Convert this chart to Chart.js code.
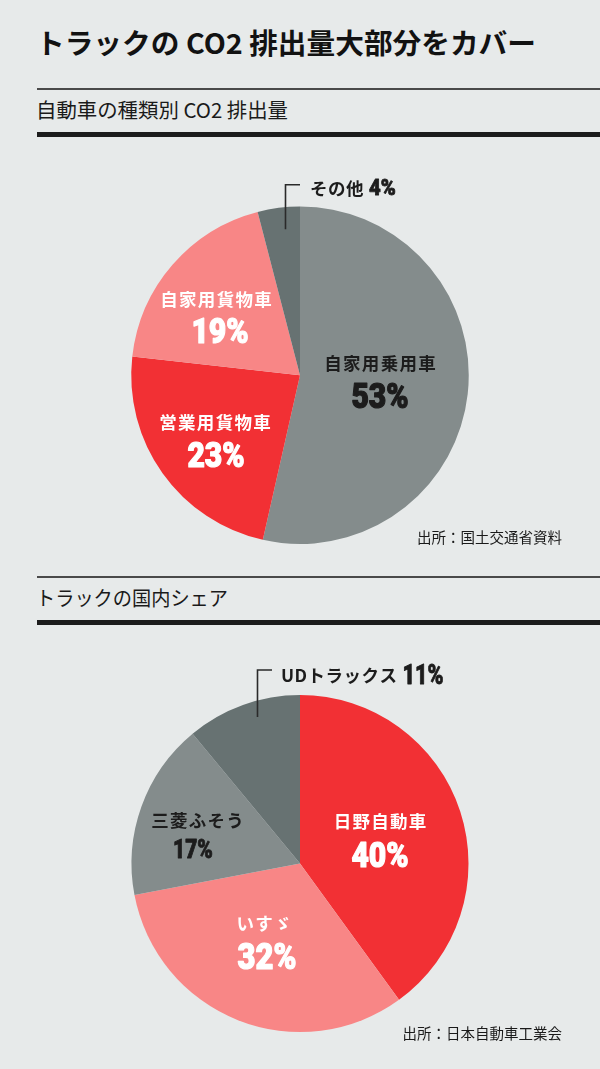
<!DOCTYPE html>
<html><head><meta charset="utf-8">
<script src="https://cdn.jsdelivr.net/npm/chart.js@4"></script>
<style>
html,body{margin:0;padding:0;background:#e7eaea;}
body{width:600px;height:1069px;position:relative;overflow:hidden;font-family:"Noto Sans CJK JP","Noto Sans",sans-serif;color:#1a1a1a;}
.abs{position:absolute;}
.fit{white-space:nowrap;transform-origin:0 0;display:inline-block;}
#title{left:36px;top:28px;font-size:28px;font-weight:700;line-height:28px;color:#121212;}
.sub{left:36px;font-size:20px;font-weight:400;line-height:20px;}
.thin{left:37px;right:0;height:2px;background:#4a4a4a;}
.thick{left:37px;right:0;height:5px;background:#1c1c1c;}
.src{right:38px;font-size:14.5px;line-height:14.5px;white-space:nowrap;color:#1a1a1a;}
.box{position:absolute;left:0;width:600px;height:420px;}
</style></head>
<body>
<div id="title" class="abs fit">トラックの CO2 排出量大部分をカバー</div>
<div class="abs thin" style="top:88px"></div>
<div id="sub1" class="abs sub fit" style="top:100px">自動車の種類別 CO2 排出量</div>
<div class="abs thick" style="top:132px"></div>

<div class="box" style="top:140px"><canvas id="c1"></canvas></div>
<div class="abs src" style="top:530px">出所：国土交通省資料</div>

<div class="abs thin" style="top:576px"></div>
<div id="sub2" class="abs sub fit" style="top:588px">トラックの国内シェア</div>
<div class="abs thick" style="top:620px"></div>

<div class="box" style="top:640px"><canvas id="c2"></canvas></div>
<div class="abs src" style="top:1026px">出所：日本自動車工業会</div>

<script>
// ---- data ----
const co2Categories = ['自家用乗用車','営業用貨物車','自家用貨物車','その他'];
const co2Values = [53, 23, 19, 4];
const co2Colors = ['#848c8c','#f23034','#f88686','#677272'];

const shareCategories = ['日野自動車','いすゞ','三菱ふそう','UDトラックス'];
const shareValues = [40, 32, 17, 11];
const shareColors = ['#f23034','#f88686','#848c8c','#677272'];

// ---- label layout (offsets from pie centre) ----
const DARK = '#1c1c1c', WHITE = '#ffffff';
const co2Layout = [
  {name:[80,-13], pct:[80,20.5], color:DARK, size:35, sx:0.86},
  {name:[-85,46], pct:[-84,79.5], color:WHITE, size:35, sx:0.86},
  {name:[-84,-76.5], pct:[-80,-45], color:WHITE, size:35, sx:0.86},
  {callout:[[-14.5,-146],[-14.5,-190.5],[0,-190.5]], text:[10,-188], color:DARK, size:22, sx:0.92}
];
const shareLayout = [
  {name:[80,-43.5], pct:[80,-8.5], color:WHITE, size:35, sx:0.86},
  {name:[-36,58.5], pct:[-33,93], color:WHITE, size:36, sx:0.86},
  {name:[-102.5,-44.5], pct:[-107,-14.5], color:DARK, size:25, sx:0.84},
  {callout:[[-42.5,-146.5],[-42.5,-193.5],[-28,-193.5]], text:[-19,-189.5], color:DARK, size:27, sx:0.8}
];

function fitText(id, w){
  const el = document.getElementById(id);
  el.style.transform = 'scaleX(' + (w / el.getBoundingClientRect().width) + ')';
}
fitText('title', 500);
fitText('sub1', 252);
fitText('sub2', 192);

function drawPct(ctx, txt, x, y, size, sx, align){
  ctx.save();
  ctx.font = '900 ' + size + 'px Roboto';
  ctx.letterSpacing = '0px';
  ctx.textAlign = align;
  ctx.textBaseline = 'alphabetic';
  ctx.translate(x, y + size * 0.711 / 2);
  ctx.scale(sx, 1);
  ctx.strokeStyle = ctx.fillStyle;
  ctx.lineWidth = size > 30 ? 1.2 : 0.8;
  ctx.lineJoin = 'round';
  ctx.strokeText(txt, 0, 0);
  ctx.fillText(txt, 0, 0);
  ctx.restore();
}

function labelPlugin(layout, names, values){
  return {
    id: 'sliceLabels',
    afterDraw(chart){
      const ctx = chart.ctx;
      const arc = chart.getDatasetMeta(0).data[0];
      const cx = arc.x, cy = arc.y;
      layout.forEach((L, i) => {
        const name = names[i], pct = values[i] + '%';
        ctx.save();
        ctx.fillStyle = L.color;
        if (L.callout){
          ctx.strokeStyle = '#2a2a2a';
          ctx.lineWidth = 1.6;
          ctx.beginPath();
          L.callout.forEach((p, j) => j ? ctx.lineTo(cx+p[0], cy+p[1]) : ctx.moveTo(cx+p[0], cy+p[1]));
          ctx.stroke();
          let x = cx + L.text[0], y = cy + L.text[1];
          ctx.font = 'bold 17.5px "Noto Sans CJK JP"';
          ctx.letterSpacing = '0.5px';
          ctx.textAlign = 'left';
          ctx.textBaseline = 'middle';
          ctx.fillText(name, x, y + 1);
          x += ctx.measureText(name).width + 5;
          drawPct(ctx, pct, x, y, L.size, L.sx, 'left');
        } else {
          ctx.font = 'bold 17.5px "Noto Sans CJK JP"';
          ctx.letterSpacing = '1.3px';
          ctx.textAlign = 'center';
          ctx.textBaseline = 'middle';
          ctx.fillText(name, cx + L.name[0] + 0.65, cy + L.name[1] + 1);
          drawPct(ctx, pct, cx + L.pct[0], cy + L.pct[1], L.size, L.sx, 'center');
        }
        ctx.restore();
      });
    }
  };
}

function makePie(id, names, values, colors, layout, padTop, padBottom){
  new Chart(document.getElementById(id), {
    type: 'pie',
    data: { labels: names, datasets: [{ data: values, backgroundColor: colors, borderWidth: 0 }] },
    options: {
      responsive: true, maintainAspectRatio: false, animation: false, events: [],
      layout: { padding: { top: padTop, bottom: padBottom, left: 0, right: 0 } },
      plugins: { legend: { display: false }, tooltip: { enabled: false } }
    },
    plugins: [labelPlugin(layout, names, values)]
  });
}

makePie('c1', co2Categories, co2Values, co2Colors, co2Layout, 66.5, 16);
makePie('c2', shareCategories, shareValues, shareColors, shareLayout, 55, 28);
</script>
</body></html>
